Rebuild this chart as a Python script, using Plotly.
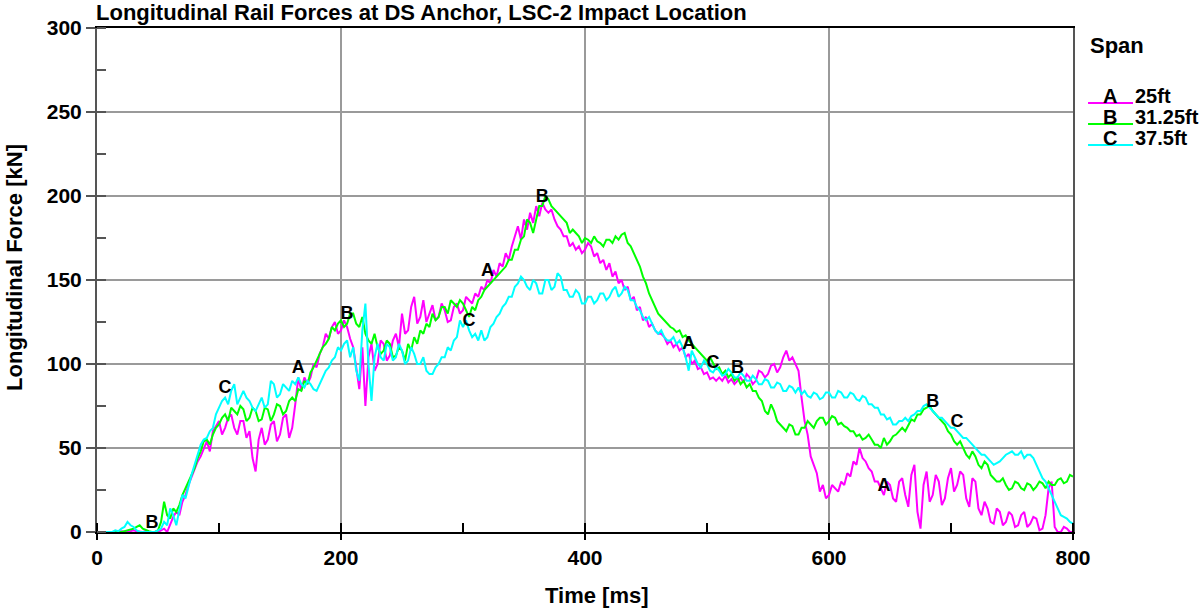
import plotly.graph_objects as go

# time axis (ms), sampled every 2.5 ms
time_ms = [i * 2.5 for i in range(321)]

# Span A = 25ft (magenta)
force_a = [
    0, 0, 0, 0, 0, 0, 0, 0, 0.5, 0.3, 0, 0.5, 1, 0.4, 0, 0, 0.5, 0, 0, 0,
    0, 1, 2, 0, 5, 9, 12, 10, 18, 22, 28, 33, 38, 42, 45, 50, 54, 48, 60, 63,
    66, 58, 62, 68, 70, 62, 58, 66, 66, 56, 60, 44, 36, 55, 62, 52, 55, 64, 66, 54,
    58, 68, 70, 56, 62, 76, 92, 84, 92, 88, 92, 100, 98, 106, 110, 118, 115, 122, 125, 118,
    120, 126, 122, 115, 110, 98, 85, 110, 75, 104, 112, 96, 100, 114, 112, 102, 105, 114, 118, 110,
    130, 118, 120, 134, 140, 124, 128, 138, 125, 130, 135, 126, 128, 136, 132, 125, 126, 134, 136, 130,
    132, 140, 138, 136, 142, 140, 146, 144, 150, 148, 156, 152, 160, 158, 166, 162, 170, 176, 182, 174,
    186, 180, 190, 184, 194, 188, 196, 192, 190, 192, 186, 182, 180, 176, 176, 170, 172, 168, 170, 166,
    168, 172, 170, 164, 166, 160, 162, 156, 160, 152, 155, 148, 150, 144, 146, 138, 140, 132, 134, 126,
    128, 122, 124, 120, 118, 118, 116, 112, 114, 110, 112, 108, 110, 104, 106, 100, 102, 97, 98, 94,
    95, 91, 92, 90, 92, 90, 93, 89, 91, 88, 90, 92, 89, 94, 92, 88, 90, 96, 95, 92,
    94, 99, 100, 95, 98, 104, 108, 102, 104, 100, 96, 80, 66, 58, 45, 40, 35, 24, 28, 20,
    22, 28, 26, 24, 30, 28, 35, 33, 42, 40, 50, 44, 42, 38, 36, 30, 30, 26, 22, 30,
    28, 20, 18, 30, 32, 22, 15, 34, 40, 12, 2, 28, 36, 18, 22, 34, 30, 16, 20, 32,
    38, 24, 28, 36, 34, 20, 15, 32, 30, 14, 10, 18, 14, 6, 5, 14, 12, 4, 6, 12,
    10, 3, 4, 10, 12, 3, 5, 9, 8, 1, 2, 10, 26, 30, 3, 0, 0, 3, 2, 0,
    0]

# Span B = 31.25ft (green)
force_b = [
    0, 0, 0, 0, 0, 0, 0, 0, 0, 0.5, 1, 1.5, 2, 3, 4, 2, 1, 0.5, 0, 0,
    1, 6, 18, 10, 8, 14, 12, 16, 22, 26, 30, 34, 38, 44, 48, 54, 55, 52, 58, 62,
    64, 68, 70, 66, 74, 72, 70, 75, 73, 66, 68, 74, 72, 66, 67, 74, 73, 66, 70, 76,
    75, 70, 72, 78, 80, 78, 85, 84, 90, 88, 95, 98, 102, 106, 110, 112, 115, 122, 120, 124,
    126, 122, 124, 130, 130, 124, 122, 128, 118, 114, 112, 118, 110, 106, 108, 114, 112, 104, 105, 110,
    108, 102, 112, 108, 116, 112, 120, 118, 124, 122, 130, 126, 128, 134, 134, 130, 138, 136, 134, 138,
    136, 132, 128, 134, 132, 138, 140, 144, 146, 148, 150, 152, 154, 156, 158, 162, 162, 168, 168, 174,
    176, 186, 184, 178, 186, 194, 194, 200, 198, 194, 192, 190, 188, 186, 184, 178, 180, 178, 176, 172,
    175, 174, 172, 176, 173, 172, 170, 174, 174, 172, 176, 174, 177, 178, 172, 170, 166, 162, 158, 152,
    148, 142, 138, 134, 130, 128, 126, 124, 122, 121, 119, 120, 116, 117, 114, 112, 110, 108, 106, 104,
    102, 104, 100, 97, 98, 94, 96, 92, 94, 90, 92, 88, 90, 86, 88, 84, 84, 80, 78, 72,
    70, 76, 72, 66, 64, 62, 60, 64, 63, 58, 58, 62, 62, 66, 64, 62, 66, 68, 68, 64,
    66, 69, 68, 64, 65, 63, 62, 60, 60, 57, 58, 55, 56, 58, 55, 52, 52, 50, 56, 52,
    54, 57, 58, 60, 62, 60, 64, 67, 66, 70, 70, 73, 74, 75, 72, 70, 68, 66, 64, 60,
    58, 54, 52, 54, 50, 46, 44, 48, 45, 40, 38, 42, 40, 34, 32, 30, 30, 32, 28, 25,
    26, 30, 29, 26, 25, 29, 28, 25, 27, 30, 29, 26, 30, 28, 28, 31, 32, 29, 30, 34,
    33]

# Span C = 37.5ft (cyan)
force_c = [
    0, 0, 0, 0, 0, 0, 1, 0.5, 2, 3, 6, 4, 3, 1, 0, 0, 0, 0, 0, 0,
    1, 2, 6, 4, 14, 10, 4, 12, 22, 20, 28, 34, 40, 46, 52, 55, 56, 60, 62, 70,
    74, 78, 80, 76, 84, 88, 76, 80, 84, 80, 78, 74, 72, 76, 80, 74, 76, 90, 88, 80,
    82, 88, 86, 84, 90, 88, 92, 88, 86, 90, 88, 85, 84, 88, 92, 96, 98, 102, 104, 110,
    108, 112, 114, 104, 110, 96, 90, 120, 136, 100, 78, 104, 112, 104, 102, 112, 110, 102, 104, 112,
    108, 100, 102, 110, 106, 100, 100, 104, 96, 94, 94, 98, 100, 104, 104, 110, 108, 114, 116, 126,
    122, 126, 120, 116, 118, 114, 120, 114, 116, 122, 124, 128, 130, 134, 136, 140, 140, 146, 148, 152,
    150, 146, 144, 150, 148, 142, 142, 150, 150, 144, 146, 154, 152, 144, 144, 140, 140, 144, 142, 136,
    136, 140, 140, 136, 138, 142, 142, 138, 140, 144, 146, 140, 142, 146, 144, 138, 138, 134, 132, 128,
    126, 128, 124, 120, 118, 120, 116, 114, 114, 116, 112, 114, 110, 104, 96, 108, 104, 100, 98, 102,
    100, 96, 95, 98, 96, 93, 94, 97, 95, 92, 92, 95, 93, 90, 90, 93, 91, 88, 88, 91,
    90, 86, 86, 89, 88, 84, 84, 87, 86, 83, 86, 82, 84, 81, 80, 83, 82, 79, 80, 83,
    83, 80, 80, 84, 83, 80, 80, 83, 82, 79, 78, 81, 80, 76, 76, 74, 74, 70, 70, 67,
    68, 64, 64, 66, 66, 68, 66, 69, 70, 72, 72, 75, 76, 74, 72, 70, 68, 68, 66, 64,
    62, 62, 60, 58, 56, 56, 54, 52, 50, 48, 46, 46, 44, 42, 40, 41, 42, 44, 46, 47,
    48, 46, 46, 48, 44, 46, 46, 44, 40, 36, 32, 30, 26, 22, 18, 14, 10, 9, 8, 6,
    5]

series_names = ["25ft", "31.25ft", "37.5ft"]
series_letters = ["A", "B", "C"]
series_colors = ["#FF00FF", "#00FF00", "#00FFFF"]

# times (ms) at which each series' letter tag is printed along the curve
label_times = {
    "A": [165, 320, 485, 645],
    "B": [45, 205, 365, 525, 685],
    "C": [105, 305, 505, 705],
}

x_ticks = [0, 200, 400, 600, 800]
y_ticks = [0, 50, 100, 150, 200, 250, 300]

FONT = "Liberation Sans, Arial, sans-serif"

fig = go.Figure()
all_series = [force_a, force_b, force_c]
for vals, name, color in zip(all_series, series_names, series_colors):
    fig.add_trace(go.Scatter(x=time_ms, y=vals, mode="lines", name=name,
                             line=dict(color=color, width=2), showlegend=False))
for vals, letter in zip(all_series, series_letters):
    xs = label_times[letter]
    ys = [vals[time_ms.index(float(t))] for t in xs]
    fig.add_trace(go.Scatter(x=xs, y=ys, mode="text", text=[f"<b>{letter}</b>"] * len(xs),
                             textposition="top center", showlegend=False,
                             textfont=dict(family=FONT, size=18, color="black"),
                             hoverinfo="skip"))

fig.update_layout(
    width=1203, height=611,
    margin=dict(l=97, r=130, t=28, b=79),
    paper_bgcolor="white", plot_bgcolor="white",
    font=dict(family=FONT, size=21, color="black"),
    showlegend=False,
)

fig.update_xaxes(
    range=[0, 800], tickvals=x_ticks, ticktext=[f"<b>{v}</b>" for v in x_ticks],
    ticks="outside", ticklen=6, tickwidth=1.5, tickcolor="black",
    minor=dict(dtick=100, ticks="inside", ticklen=9, tickcolor="black", tickwidth=1.5, showgrid=False),
    showgrid=True, gridcolor="#9a9a9a", gridwidth=1.5,
    showline=True, linecolor="black", linewidth=2, mirror=True,
    zeroline=False, tickfont=dict(size=21),
)
fig.update_yaxes(
    range=[0, 300], tickvals=y_ticks, ticktext=[f"<b>{v}</b>" for v in y_ticks],
    ticks="outside", ticklen=9, tickwidth=1.5, tickcolor="#555",
    minor=dict(dtick=25, ticks="inside", ticklen=9, tickcolor="#555", tickwidth=1.5, showgrid=False),
    showgrid=True, gridcolor="#9a9a9a", gridwidth=1.5,
    showline=True, linecolor="#555", linewidth=2, mirror=True,
    zeroline=False, tickfont=dict(size=21),
)

annotations = [
    dict(text="<b>Longitudinal Rail Forces at DS Anchor, LSC-2 Impact Location</b>",
         xref="paper", yref="paper", x=-0.003, y=1.031, xanchor="left", yanchor="middle",
         showarrow=False, font=dict(size=22)),
    dict(text="<b>Time [ms]</b>", xref="paper", yref="paper", x=0.512, y=-0.125,
         xanchor="center", yanchor="middle", showarrow=False, font=dict(size=22)),
    dict(text="<b>Longitudinal Force [kN]</b>", xref="paper", yref="paper", x=-0.084, y=0.524,
         xanchor="center", yanchor="middle", textangle=-90, showarrow=False, font=dict(size=22)),
    dict(text="<b>Span</b>", xref="paper", yref="paper", x=1.0154, y=0.966,
         xanchor="left", yanchor="middle", showarrow=False, font=dict(size=22)),
]
shapes = []
legend_text_y = [0.865, 0.8234, 0.7817]
legend_line_y = [0.851, 0.8095, 0.768]
for letter, name, color, ty, ly in zip(series_letters, series_names, series_colors,
                                        legend_text_y, legend_line_y):
    shapes.append(dict(type="line", xref="paper", yref="paper", x0=1.0154, x1=1.0615,
                       y0=ly, y1=ly, line=dict(color=color, width=2)))
    annotations.append(dict(text=f"<b>{letter}</b>", xref="paper", yref="paper", x=1.0379, y=ty,
                            xanchor="center", yanchor="middle", showarrow=False, font=dict(size=20)))
    annotations.append(dict(text=f"<b>{name}</b>", xref="paper", yref="paper", x=1.0615, y=ty,
                            xanchor="left", yanchor="middle", showarrow=False, font=dict(size=20)))

fig.update_layout(annotations=annotations, shapes=shapes)

fig.write_html("out.html", config={"displayModeBar": False},
               post_script="document.body.style.margin='0';")
